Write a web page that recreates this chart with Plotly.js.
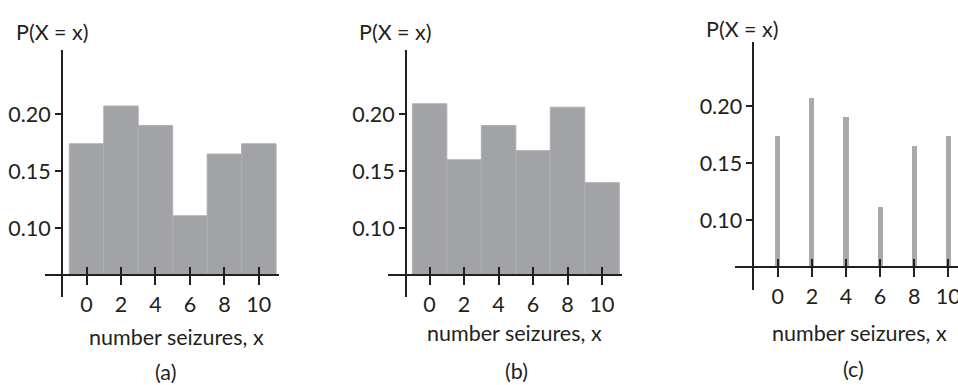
<!DOCTYPE html>
<html>
<head>
<meta charset="utf-8">
<script src="https://cdn.plot.ly/plotly-3.0.1.min.js"></script>
<style>html,body{margin:0;padding:0;background:#fff}#chart{width:958px;height:385px}</style>
</head>
<body>
<div id="chart"></div>
<script>
// ---- data ----
var seizures = [0, 2, 4, 6, 8, 10];
var probA = [0.174, 0.207, 0.190, 0.111, 0.165, 0.174];
var probB = [0.209, 0.160, 0.190, 0.168, 0.206, 0.140];
var probC = [0.174, 0.207, 0.190, 0.111, 0.165, 0.174];
var yTickVals = [0.10, 0.15, 0.20];
var yTickText = ["0.10", "0.15", "0.20"];
var xTickVals = [0, 2, 4, 6, 8, 10];
var xTickText = ["0", "2", "4", "6", "8", "10"];
var yLabel = "P(X = x)";
var xLabel = "number seizures, x";
var panelLabels = ["(a)", "(b)", "(c)"];

// ---- layout helpers ----
var W = 958, H = 385;
var FONT = "Lato, 'Open Sans', sans-serif";
var FS = 21.5;
var INK = "#231f20";
var BAR = "#a2a3a6";
var BAR_EDGE = "#aeafb2";

// each panel: pixel frame of axes, ranges
var panels = [
  {xr: [-2.41, 11.17], px: [45, 279], yr: [0.040, 0.256], py: [297, 50], base: 0.0594, yAxisAt: -1.42},
  {xr: [-2.43, 11.14], px: [387.7, 621.7], yr: [0.040, 0.256], py: [297, 50], base: 0.0594, yAxisAt: -1.37},
  {xr: [-2.51, 10.57], px: [735, 958], yr: [0.0386, 0.2564], py: [290, 41.7], base: 0.0585, yAxisAt: -1.43}
];

function fx(p) { return p / W; }
function fy(p) { return (H - p) / H; }

var data = [];
var layout = {
  width: W, height: H,
  margin: {l: 0, r: 0, t: 0, b: 0},
  paper_bgcolor: "#fff", plot_bgcolor: "rgba(0,0,0,0)",
  showlegend: false,
  font: {family: FONT, size: FS, color: INK},
  annotations: [],
  bargap: 0
};

var series = [probA, probB, probC];
panels.forEach(function(p, i) {
  var xd = [fx(p.px[0]), fx(p.px[1])];
  var yd = [fy(p.py[0]), fy(p.py[1])];
  var xPos = yd[0] + (p.base - p.yr[0]) / (p.yr[1] - p.yr[0]) * (yd[1] - yd[0]);
  var yPos = xd[0] + (p.yAxisAt - p.xr[0]) / (p.xr[1] - p.xr[0]) * (xd[1] - xd[0]);
  var xa = "x" + (i * 2 + 1), xb = "x" + (i * 2 + 2), ya = "y" + (i + 1);
  var kxa = "xaxis" + (i * 2 + 1), kxb = "xaxis" + (i * 2 + 2), kya = "yaxis" + (i + 1);
  var isSpike = (i === 2);
  data.push({
    type: "bar", x: seizures,
    y: series[i].map(function(v) { return v - p.base; }),
    base: p.base,
    width: isSpike ? 0.3 : 2,
    marker: {color: isSpike ? "#a7a9ac" : BAR, line: {color: isSpike ? "#a7a9ac" : BAR_EDGE, width: isSpike ? 0 : 1}},
    xaxis: xa, yaxis: ya, hoverinfo: "x+y"
  });
  layout[kxa] = {
    domain: xd, range: p.xr, anchor: "free", position: xPos,
    showgrid: false, zeroline: false, showline: true, linecolor: INK, linewidth: 2,
    ticks: "outside", ticklen: 9, tickwidth: 2, tickcolor: INK,
    tickvals: xTickVals, ticktext: xTickText, ticklabelstandoff: 1,
    ticklabeloverflow: "allow",
    tickfont: {family: FONT, size: FS, color: INK}, layer: "above traces"
  };
  // overlay axis to draw the upper half of the crossing ticks
  layout[kxb] = {
    domain: xd, range: p.xr, anchor: "free", position: xPos, overlaying: xa,
    showgrid: false, zeroline: false, showline: false,
    ticks: "inside", ticklen: 8, tickwidth: 2, tickcolor: INK,
    tickvals: xTickVals, showticklabels: false, layer: "above traces"
  };
  layout[kya] = {
    domain: yd, range: p.yr, anchor: "free", position: yPos,
    showgrid: false, zeroline: false, showline: true, linecolor: INK, linewidth: 2,
    ticks: "outside", ticklen: 6, tickwidth: 2, tickcolor: INK,
    tickvals: yTickVals, ticktext: yTickText, ticklabelstandoff: 0,
    tickfont: {family: FONT, size: FS, color: INK}, layer: "above traces"
  };
  // dummy trace so the overlay axis is drawn
  data.push({type: "scatter", x: [], y: [], xaxis: xb, yaxis: ya, hoverinfo: "skip"});
});

var textPos = [
  {p: [52.5, 31.7], t: [176, 337], l: [165, 372]},
  {p: [395, 31.7], t: [514, 333], l: [516.7, 371]},
  {p: [742.5, 29], t: [859.7, 333], l: [853.3, 369]}
];
textPos.forEach(function(tp, i) {
  layout.annotations.push({xref: "paper", yref: "paper", x: fx(tp.p[0]), y: fy(tp.p[1]), text: yLabel, showarrow: false, xanchor: "center", yanchor: "middle", borderpad: 0, font: {family: FONT, size: FS, color: INK}});
  layout.annotations.push({xref: "paper", yref: "paper", x: fx(tp.t[0]), y: fy(tp.t[1]), text: xLabel, showarrow: false, xanchor: "center", yanchor: "middle", borderpad: 0, font: {family: FONT, size: FS, color: INK}});
  layout.annotations.push({xref: "paper", yref: "paper", x: fx(tp.l[0]), y: fy(tp.l[1]), text: panelLabels[i], showarrow: false, xanchor: "center", yanchor: "middle", borderpad: 0, font: {family: FONT, size: FS, color: INK}});
});

Plotly.newPlot("chart", data, layout, {displayModeBar: false, staticPlot: true});
</script>
</body>
</html>
